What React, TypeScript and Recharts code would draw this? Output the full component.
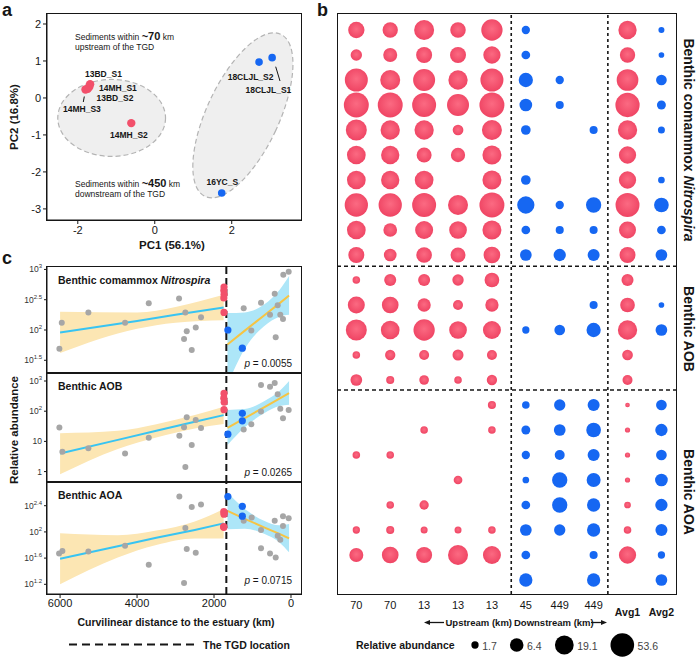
import React from "react";
import {
  ScatterChart,
  Scatter,
  ComposedChart,
  Area,
  Line,
  XAxis,
  YAxis,
  ReferenceLine,
} from "recharts";

const FONT = '"Liberation Sans", Arial, Helvetica, sans-serif';
const INK = "#161616";
const RED = "#f2506b";
const BLUE = "#1667f2";
const GRAY = "#a6a6a6";
const CYAN_LINE = "#38c4f2";
const YELLOW_LINE = "#f6c443";
const YELLOW_BAND = "#fce6b3";
const CYAN_BAND = "#ade6f8";

// ---------- panel a: PCA ----------
const pcaUpstream = [
  { name: "13BD_S1", pc1: -1.68, pc2: 0.37 },
  { name: "14MH_S1", pc1: -1.7, pc2: 0.3 },
  { name: "13BD_S2", pc1: -1.74, pc2: 0.25 },
  { name: "14MH_S3", pc1: -1.8, pc2: 0.23 },
  { name: "14MH_S2", pc1: -0.61, pc2: -0.68 },
];
const pcaDownstream = [
  { name: "18CLJL_S2", pc1: 2.71, pc2: 0.97 },
  { name: "18CLJL_S1", pc1: 3.05, pc2: 1.09 },
  { name: "16YC_S", pc1: 1.74, pc2: -2.57 },
];
// group ellipses: centre, half-axes (PC units), tilt in degrees
const pcaEllipses = [
  { pc1: -1.12, pc2: -0.54, rx: 1.4, ry: 1.04, tilt: 0 },
  { pc1: 2.29, pc2: -0.47, rx: 0.94, ry: 2.42, tilt: 25 },
];
const pcaXTicks = [-2, 0, 2];
const pcaYTicks = [-3, -2, -1, 0, 1, 2];
const A_X: [number, number] = [-2.8, 3.8];
const A_Y: [number, number] = [-3.3, 2.27];
const A_W = 254;
const A_H = 206;

// ---------- panel b: bubble matrix ----------
const bColumns = ["70", "70", "13", "13", "13", "45", "449", "449", "Avg1", "Avg2"];
const upstreamCols = [0, 1, 2, 3, 4, 8];
const comammoxRows: (number | null)[][] = [
  [11.4, 9.2, 24.8, 9.6, 32.7, 2.1, null, null, 17.3, 1.3],
  [4.0, 7.0, 10.7, 10.7, 14.0, 2.3, null, null, 9.2, 1.2],
  [46.8, 24.8, 37.9, 21.4, 46.8, 7.4, 2.1, null, 35.6, 3.5],
  [71, 71, 57.5, 37.9, 71, 5.3, 2.0, null, 61.2, 2.4],
  [30.7, 21.4, 21.4, 3.5, 24.8, 2.8, null, 2.0, 21.4, 1.6],
  [18.9, 17.3, 8.6, 7.4, 20.1, null, null, null, 14.0, null],
  [18.9, 17.3, 18.9, null, 20.1, 2.8, null, null, 14.0, 1.5],
  [49.9, 49.9, 57.5, 24.8, 71, 14.0, 2.1, 9.2, 57.5, 8.1],
  [18.9, 6.6, 16.3, 15.3, 20.1, 2.3, 2.0, 2.0, 13.2, 2.3],
  [10.7, 5.3, 10, 8.6, 12.4, 4.3, 4.9, 4.6, 10.7, 4.3],
];
const aobRows: (number | null)[][] = [
  [1.8, 4.6, 4.6, 4.0, 8.1, null, null, null, 4.6, null],
  [13.2, 12.4, 6.0, 3.0, 6.0, null, null, 2.0, 8.1, 1.2],
  [30.7, 18.9, 32.7, 15.3, 16.3, 1.7, 3.5, 7.4, 21.4, 4.3],
  [1.8, 3.2, 3.0, 3.7, 3.0, null, null, null, 3.5, null],
  [4.3, 2.0, 2.8, 1.8, 3.2, null, null, null, 3.0, null],
];
const aoaRows: (number | null)[][] = [
  [null, null, null, null, 2.0, 1.8, 4.0, 4.6, 0.98, 3.5],
  [null, null, 1.8, null, 1.8, 2.4, 4.3, 8.1, 1.1, 4.9],
  [1.8, 1.8, null, null, null, 2.1, 3.0, 4.6, 1.1, 3.5],
  [null, null, null, 2.3, null, 1.5, 9.2, 7.0, 1.1, 5.3],
  [null, 1.8, 2.6, null, null, 2.3, 9.2, 6.0, 1.5, 4.9],
  [1.7, 2.0, 1.6, 1.6, 1.8, 4.3, 4.0, 6.0, 1.8, 4.6],
  [7.0, 12.4, 10.7, 24.8, 16.3, 2.3, null, 2.0, 14.0, 1.7],
  [null, null, null, null, null, 6.0, null, 6.0, null, 4.3],
];
const sizeLegend = [1.7, 6.4, 19.1, 53.6];

const bRows = [...comammoxRows, ...aobRows, ...aoaRows];
const bubbleCells = bRows.flatMap((row, r) =>
  row.map((v, c) => ({ x: c, y: r, v })).filter((p) => p.v != null)
);
const redCells = bubbleCells.filter((p) => upstreamCols.includes(p.x));
const blueCells = bubbleCells.filter((p) => !upstreamCols.includes(p.x));

// bubble diameter grows with log abundance (matches the size key)
const bubbleR = (v: number) => (7.3 + (Math.log10(v) - Math.log10(1.7)) * 10.9) / 2;

// ---------- panel c: abundance vs distance (log10 values) ----------
const TGD_KM = 1680;
const distTicks = [6000, 4000, 2000, 0];

const comGray = [
  { d: 6018, v: 1.69 }, { d: 5956, v: 2.12 }, { d: 5265, v: 2.29 }, { d: 4312, v: 2.12 },
  { d: 3696, v: 2.44 }, { d: 2909, v: 2.52 }, { d: 2745, v: 2.29 }, { d: 2338, v: 2.21 },
  { d: 2709, v: 1.98 }, { d: 2475, v: 2.04 }, { d: 2779, v: 1.85 }, { d: 2579, v: 1.67 },
  { d: 1229, v: 2.36 }, { d: 779, v: 2.45 }, { d: 1031, v: 1.99 }, { d: 545, v: 2.25 },
  { d: 423, v: 2.6 }, { d: 345, v: 2.41 }, { d: 278, v: 2.25 }, { d: 208, v: 2.18 },
  { d: 397, v: 1.88 }, { d: 200, v: 2.91 }, { d: 60, v: 2.96 },
];
const comRed = [
  { d: 1740, v: 2.71 }, { d: 1745, v: 2.65 }, { d: 1738, v: 2.59 }, { d: 1745, v: 2.53 }, { d: 1740, v: 2.29 },
];
const comBlue = [{ d: 1640, v: 2.0 }, { d: 1265, v: 1.7 }];
const comFit = [
  { d: 6000, bandL: [1.62, 2.3], lineL: 1.96 },
  { d: 4000, bandL: [2.02, 2.29], lineL: 2.15 },
  { d: 3000, bandL: [2.12, 2.38], lineL: 2.25 },
  { d: 1750, bandL: [2.16, 2.58], lineL: 2.37 },
  { d: 1650, bandR: [1.1, 2.28], lineR: 1.76 },
  { d: 1200, bandR: [1.69, 2.29], lineR: 1.99 },
  { d: 700, bandR: [2.06, 2.42], lineR: 2.24 },
  { d: 300, bandR: [2.22, 2.66], lineR: 2.44 },
  { d: 50, bandR: [2.25, 2.89], lineR: 2.57 },
];

const aobGray = [
  { d: 6018, v: 1.46 }, { d: 5940, v: 0.66 }, { d: 5265, v: 0.77 }, { d: 4312, v: 0.6 },
  { d: 3696, v: 1.12 }, { d: 2901, v: 1.19 }, { d: 2745, v: 0.15 }, { d: 2709, v: 1.8 },
  { d: 2779, v: 1.47 }, { d: 2579, v: 0.88 }, { d: 2475, v: 1.71 }, { d: 2338, v: 1.44 },
  { d: 779, v: 2.87 }, { d: 545, v: 2.81 }, { d: 423, v: 2.93 }, { d: 345, v: 2.56 },
  { d: 278, v: 2.08 }, { d: 208, v: 1.77 }, { d: 60, v: 2.04 }, { d: 1229, v: 1.39 },
  { d: 1031, v: 1.57 }, { d: 779, v: 1.99 },
];
const aobRed = [{ d: 1740, v: 2.59 }, { d: 1745, v: 2.43 }, { d: 1735, v: 2.3 }, { d: 1740, v: 2.05 }];
const aobBlue = [{ d: 1640, v: 1.24 }, { d: 1265, v: 1.93 }, { d: 1265, v: 1.68 }];
const aobFit = [
  { d: 6000, bandL: [-0.09, 1.27], lineL: 0.6 },
  { d: 4500, bandL: [0.75, 1.35], lineL: 1.05 },
  { d: 3500, bandL: [1.13, 1.57], lineL: 1.35 },
  { d: 2500, bandL: [1.43, 1.87], lineL: 1.65 },
  { d: 1750, bandL: [1.58, 2.15], lineL: 1.87 },
  { d: 1650, bandR: [0.88, 2.04], lineR: 1.45 },
  { d: 1200, bandR: [1.47, 2.07], lineR: 1.77 },
  { d: 700, bandR: [1.93, 2.33], lineR: 2.13 },
  { d: 300, bandR: [2.17, 2.67], lineR: 2.42 },
  { d: 50, bandR: [2.21, 3.0], lineR: 2.6 },
];

const aoaGray = [
  { d: 6026, v: 1.67 }, { d: 5940, v: 1.71 }, { d: 5265, v: 1.7 }, { d: 4312, v: 1.79 },
  { d: 3696, v: 1.5 }, { d: 2901, v: 2.54 }, { d: 2745, v: 2.06 }, { d: 2579, v: 2.38 },
  { d: 2338, v: 2.42 }, { d: 2709, v: 1.74 }, { d: 2475, v: 1.68 }, { d: 2779, v: 1.22 },
  { d: 1229, v: 2.17 }, { d: 1021, v: 2.22 }, { d: 779, v: 2.03 }, { d: 779, v: 1.75 },
  { d: 545, v: 1.67 }, { d: 423, v: 2.17 }, { d: 397, v: 1.61 }, { d: 345, v: 1.94 },
  { d: 278, v: 1.88 }, { d: 208, v: 2.09 }, { d: 208, v: 2.24 }, { d: 60, v: 2.21 },
];
const aoaRed = [
  { d: 1745, v: 2.31 }, { d: 1740, v: 2.27 }, { d: 1735, v: 2.29 }, { d: 1750, v: 2.08 }, { d: 1745, v: 2.07 },
];
const aoaBlue = [{ d: 1640, v: 2.54 }, { d: 1265, v: 2.39 }, { d: 1265, v: 2.24 }];
const aoaFit = [
  { d: 6000, bandL: [1.2, 1.98], lineL: 1.59 },
  { d: 4500, bandL: [1.61, 1.95], lineL: 1.78 },
  { d: 3500, bandL: [1.8, 2.02], lineL: 1.91 },
  { d: 2500, bandL: [1.9, 2.16], lineL: 2.03 },
  { d: 1750, bandL: [1.9, 2.35], lineL: 2.13 },
  { d: 1650, bandR: [2.04, 2.6], lineR: 2.32 },
  { d: 1200, bandR: [2.05, 2.35], lineR: 2.2 },
  { d: 700, bandR: [1.97, 2.17], lineR: 2.07 },
  { d: 300, bandR: [1.84, 2.1], lineR: 1.97 },
  { d: 50, bandR: [1.69, 2.12], lineR: 1.9 },
];

// ---------- helpers ----------
type TxtProps = {
  x: number;
  y: number;
  size?: number;
  bold?: boolean;
  italic?: boolean;
  anchor?: "start" | "middle" | "end";
  rotate?: number;
  color?: string;
  children: React.ReactNode;
};
const Txt = ({ x, y, size = 10, bold, italic, anchor = "start", rotate = 0, color = INK, children }: TxtProps) => {
  const tx = anchor === "start" ? "0%" : anchor === "middle" ? "-50%" : "-100%";
  return (
    <div
      style={{
        position: "absolute",
        left: x,
        top: y,
        transform: `translate(${tx}, -50%) rotate(${rotate}deg)`,
        fontSize: size,
        fontWeight: bold ? 700 : 400,
        fontStyle: italic ? "italic" : "normal",
        color,
        whiteSpace: "nowrap",
        lineHeight: 1,
        pointerEvents: "none",
      }}>
      {children}
    </div>
  );
};

const Frame = ({ l, t, r, b }: { l: number; t: number; r: number; b: number }) => (
  <div
    style={{
      position: "absolute",
      left: l - 0.7,
      top: t - 0.7,
      width: r - l + 1.4,
      height: b - t + 1.4,
      border: `1.4px solid ${INK}`,
      boxSizing: "border-box",
      pointerEvents: "none",
    }}
  />
);

const dot = (fill: string, r: number) => (p: any) =>
  p.cx == null ? <g /> : <circle cx={p.cx} cy={p.cy} r={r} fill={fill} />;

const EllipseShape = (p: any) => {
  const e = p.payload;
  const rx = (e.rx * A_W) / (A_X[1] - A_X[0]);
  const ry = (e.ry * A_H) / (A_Y[1] - A_Y[0]);
  return (
    <ellipse
      cx={p.cx}
      cy={p.cy}
      rx={rx}
      ry={ry}
      transform={`rotate(${e.tilt} ${p.cx} ${p.cy})`}
      fill="#efefef"
      stroke="#b4b4b4"
      strokeWidth={1.2}
      strokeDasharray="5 3"
    />
  );
};

const bubble = (fill: string) => (p: any) =>
  p.cx == null ? <g /> : <circle cx={p.cx} cy={p.cy} r={bubbleR(p.payload.v)} fill={fill} />;

const BTick = ({ x, payload }: any) => {
  const label = bColumns[payload.value];
  const avg = label.startsWith("Avg");
  return (
    <text
      x={x}
      y={avg ? 616 : 609}
      textAnchor="middle"
      fontSize={avg ? 10.5 : 11}
      fontWeight={avg ? 700 : 400}
      fill={INK}
      fontFamily={FONT}>
      {label}
    </text>
  );
};

const PowTick = ({ x, y, payload }: any) => {
  const e = payload.value;
  const base = e === 0 ? "1" : "10";
  const sup = e === 0 || e === 1 ? "" : String(e);
  return (
    <text x={x} y={y + 3} textAnchor="end" fontSize={8.5} fill="#333" fontFamily={FONT}>
      {base}
      {sup && (
        <tspan dy={-4} fontSize={6}>
          {sup}
        </tspan>
      )}
    </text>
  );
};

type CPanelProps = {
  top: number;
  height: number;
  fit: any[];
  gray: { d: number; v: number }[];
  red: { d: number; v: number }[];
  blue: { d: number; v: number }[];
  yDomain: [number, number];
  yTicks: number[];
  showX?: boolean;
};

const PAD = 8;
const CPanel = ({ top, height, fit, gray, red, blue, yDomain, yTicks, showX }: CPanelProps) => (
  <div style={{ position: "absolute", left: 0, top: top - PAD }}>
    <ComposedChart
      width={310}
      height={height + PAD + (showX ? 25 : 0)}
      data={fit}
      margin={{ top: PAD, right: 9, bottom: 0, left: 0 }}>
      <XAxis
        dataKey="d"
        type="number"
        domain={[-260, 6340]}
        reversed
        allowDataOverflow
        hide={!showX}
        height={25}
        ticks={distTicks}
        interval={0}
        tickSize={4}
        tickMargin={1}
        stroke={INK}
        tick={{ fontSize: 11, fill: INK, fontFamily: FONT }}
      />
      <YAxis
        type="number"
        width={47}
        domain={yDomain}
        allowDataOverflow
        ticks={yTicks}
        interval={0}
        tickSize={3}
        tickMargin={2}
        stroke={INK}
        tick={<PowTick />}
      />
      <Area dataKey="bandL" type="monotone" fill={YELLOW_BAND} fillOpacity={1} stroke="none" isAnimationActive={false} />
      <Area dataKey="bandR" type="monotone" fill={CYAN_BAND} fillOpacity={1} stroke="none" isAnimationActive={false} />
      <Line dataKey="lineL" stroke={CYAN_LINE} strokeWidth={2} dot={false} isAnimationActive={false} />
      <Line dataKey="lineR" stroke={YELLOW_LINE} strokeWidth={2} dot={false} isAnimationActive={false} />
      <ReferenceLine x={TGD_KM} stroke={INK} strokeWidth={2} strokeDasharray="7 4" />
      <Scatter data={gray} dataKey="v" shape={dot(GRAY, 3)} isAnimationActive={false} />
      <Scatter data={red} dataKey="v" shape={dot(RED, 3.6)} isAnimationActive={false} />
      <Scatter data={blue} dataKey="v" shape={dot(BLUE, 3.6)} isAnimationActive={false} />
    </ComposedChart>
  </div>
);

export default function App() {
  return (
    <div
      style={{
        position: "absolute",
        left: 0,
        top: 0,
        width: 696,
        height: 657,
        background: "#fff",
        fontFamily: FONT,
        color: INK,
        overflow: "hidden",
      }}>
      {/* ===== panel a ===== */}
      <div style={{ position: "absolute", left: 0, top: 0 }}>
        <ScatterChart width={310} height={260} margin={{ top: 14, right: 9, bottom: 10, left: 0 }}>
          <XAxis
            dataKey="pc1"
            type="number"
            domain={A_X}
            ticks={pcaXTicks}
            interval={0}
            height={30}
            tickSize={4}
            tickMargin={2}
            stroke={INK}
            tick={{ fontSize: 11, fill: INK, fontFamily: FONT }}
          />
          <YAxis
            dataKey="pc2"
            type="number"
            domain={A_Y}
            ticks={pcaYTicks}
            interval={0}
            width={47}
            tickSize={4}
            tickMargin={2}
            stroke={INK}
            tick={{ fontSize: 11, fill: INK, fontFamily: FONT }}
          />
          <Scatter data={pcaEllipses} shape={EllipseShape} isAnimationActive={false} />
          <Scatter data={pcaUpstream} shape={dot(RED, 4.2)} isAnimationActive={false} />
          <Scatter data={pcaDownstream} shape={dot(BLUE, 3.8)} isAnimationActive={false} />
        </ScatterChart>
      </div>
      <Frame l={47} t={14} r={301} b={220} />
      <Txt x={2} y={10} size={18} bold>a</Txt>
      <Txt x={15} y={117} size={11.5} bold anchor="middle" rotate={-90}>PC2 (16.8%)</Txt>
      <Txt x={172} y={246} size={11.5} bold anchor="middle">PC1 (56.1%)</Txt>
      <Txt x={75} y={36} size={8.5}>
        Sediments within <b style={{ fontSize: 11 }}>~70</b> km
      </Txt>
      <Txt x={75} y={46.5} size={8.5}>upstream of the TGD</Txt>
      <Txt x={75} y={183} size={8.5}>
        Sediments within <b style={{ fontSize: 11 }}>~450</b> km
      </Txt>
      <Txt x={75} y={193.5} size={8.5}>downstream of the TGD</Txt>
      <Txt x={85} y={74} size={8.5} bold>13BD_S1</Txt>
      <Txt x={99} y={87.5} size={8.5} bold>14MH_S1</Txt>
      <Txt x={96.5} y={98} size={8.5} bold>13BD_S2</Txt>
      <Txt x={63} y={109} size={8.5} bold>14MH_S3</Txt>
      <Txt x={110} y={135} size={8.5} bold>14MH_S2</Txt>
      <Txt x={273.5} y={76.5} size={8.5} bold anchor="end">18CLJL_S2</Txt>
      <Txt x={245.5} y={89.5} size={8.5} bold>18CLJL_S1</Txt>
      <Txt x={206.5} y={181.5} size={8.5} bold>16YC_S</Txt>

      {/* ===== panel b ===== */}
      <div style={{ position: "absolute", left: 337, top: 0 }}>
        <ScatterChart width={339} height={634} margin={{ top: 14, right: 0, bottom: 0, left: 0 }}>
          <XAxis
            dataKey="x"
            type="number"
            domain={[-0.57, 9.43]}
            ticks={bColumns.map((_, i) => i)}
            interval={0}
            height={40}
            axisLine={false}
            tickLine={false}
            tick={<BTick />}
          />
          <YAxis dataKey="y" type="number" domain={[-0.64, 22.56]} reversed hide />
          <ReferenceLine y={9.45} stroke={INK} strokeWidth={1.5} strokeDasharray="4 3" />
          <ReferenceLine y={14.4} stroke={INK} strokeWidth={1.5} strokeDasharray="4 3" />
          <ReferenceLine x={4.57} stroke={INK} strokeWidth={1.6} strokeDasharray="3 3" />
          <ReferenceLine x={7.42} stroke={INK} strokeWidth={1.6} strokeDasharray="3 3" />
          <Scatter data={redCells} shape={bubble("url(#redBubble)")} isAnimationActive={false} />
          <Scatter data={blueCells} shape={bubble(BLUE)} isAnimationActive={false} />
        </ScatterChart>
      </div>
      <Frame l={337.7} t={14} r={676} b={594} />
      <Txt x={317} y={10} size={18} bold>b</Txt>
      <Txt x={689} y={140} size={14} bold anchor="middle" rotate={90}>
        Benthic comammox <i>Nitrospira</i>
      </Txt>
      <Txt x={689} y={329} size={14} bold anchor="middle" rotate={90}>Benthic AOB</Txt>
      <Txt x={689} y={492} size={14} bold anchor="middle" rotate={90}>Benthic AOA</Txt>
      <Txt x={445.5} y={622.5} size={9.5} bold>Upstream (km)</Txt>
      <Txt x={514} y={622.5} size={9.5} bold>Downstream (km)</Txt>
      <Txt x={356} y={645} size={10.5} bold>Relative abundance</Txt>

      {/* ===== panel c ===== */}
      <CPanel top={267} height={106} fit={comFit} gray={comGray} red={comRed} blue={comBlue} yDomain={[1.29, 3.04]} yTicks={[1.5, 2, 2.5, 3]} />
      <CPanel top={373} height={109} fit={aobFit} gray={aobGray} red={aobRed} blue={aobBlue} yDomain={[-0.345, 3.265]} yTicks={[0, 1, 2, 3]} />
      <CPanel top={482} height={112} fit={aoaFit} gray={aoaGray} red={aoaRed} blue={aoaBlue} yDomain={[1.052, 2.762]} yTicks={[1.2, 1.6, 2, 2.4]} showX />
      <Frame l={47} t={267} r={301} b={373} />
      <Frame l={47} t={373} r={301} b={482} />
      <Frame l={47} t={482} r={301} b={594} />
      <Txt x={2} y={258} size={18} bold>c</Txt>
      <Txt x={58} y={279.5} size={10.5} bold>
        Benthic comammox <i>Nitrospira</i>
      </Txt>
      <Txt x={58} y={386} size={10.5} bold>Benthic AOB</Txt>
      <Txt x={58} y={495} size={10.5} bold>Benthic AOA</Txt>
      <Txt x={292} y={364} size={10} anchor="end"><i>p</i> = 0.0055</Txt>
      <Txt x={292} y={473} size={10} anchor="end"><i>p</i> = 0.0265</Txt>
      <Txt x={292} y={581} size={10} anchor="end"><i>p</i> = 0.0715</Txt>
      <Txt x={15} y={430} size={11.5} bold anchor="middle" rotate={-90}>Relative abundance</Txt>
      <Txt x={176} y={621.5} size={10.5} bold anchor="middle">Curvilinear distance to the estuary (km)</Txt>
      <Txt x={203} y={644.5} size={10.5} bold>The TGD location</Txt>

      {/* overlay: gradient, leader lines, arrows, legends */}
      <svg
        width={696}
        height={657}
        style={{ position: "absolute", left: 0, top: 0, pointerEvents: "none" }}>
        <defs>
          <radialGradient id="redBubble" cx="50%" cy="45%" r="55%">
            <stop offset="0%" stopColor="#fb6a82" />
            <stop offset="100%" stopColor="#ef4463" />
          </radialGradient>
        </defs>
        <line x1={84.3} y1={96.5} x2={83.3} y2={102} stroke={INK} strokeWidth={1} />
        <line x1={275.7} y1={66.7} x2={280} y2={81} stroke={INK} strokeWidth={1} />
        <line x1={428} y1={622.5} x2={444} y2={622.5} stroke={INK} strokeWidth={1.3} />
        <polygon points="424,622.5 430,620 430,625" fill={INK} />
        <line x1={591} y1={622.5} x2={603} y2={622.5} stroke={INK} strokeWidth={1.3} />
        <polygon points="607,622.5 601,620 601,625" fill={INK} />
        <line x1={69} y1={644.5} x2={195} y2={644.5} stroke={INK} strokeWidth={2} strokeDasharray="8 5" />
        {sizeLegend.map((v, i) => {
          const cx = [475, 516.7, 564.3, 622.3][i];
          return <circle key={v} cx={cx} cy={645} r={bubbleR(v)} fill="#000" />;
        })}
      </svg>
      {sizeLegend.map((v, i) => {
        const cx = [475, 516.7, 564.3, 622.3][i];
        return (
          <Txt key={v} x={cx + bubbleR(v) + 3.5} y={645.5} size={10.5} color="#444">
            {String(v)}
          </Txt>
        );
      })}
    </div>
  );
}
